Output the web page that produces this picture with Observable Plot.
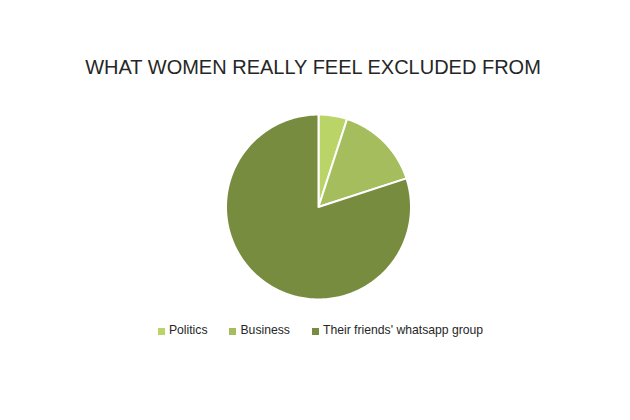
<!DOCTYPE html>
<html>
<head>
<meta charset="utf-8">
<script src="https://cdn.jsdelivr.net/npm/d3@7"></script>
<script src="https://cdn.jsdelivr.net/npm/@observablehq/plot@0.6"></script>
<style>
  html, body { margin: 0; padding: 0; background: #ffffff; }
  #page { position: relative; width: 630px; height: 420px; font-family: "Liberation Sans", Arial, sans-serif; }
  #title { position: absolute; top: 55px; left: 0; width: 626px; text-align: center; font-size: 20px; line-height: 24px; color: #262626; white-space: nowrap; }
  #chart { position: absolute; top: 100px; left: 0; }
  #legend { position: absolute; top: 323px; left: 0; width: 630px; box-sizing: border-box; padding-left: 11px; display: flex; justify-content: center; gap: 22px; font-size: 12.2px; line-height: 15px; color: #262626; }
  .item { display: inline-flex; align-items: center; white-space: nowrap; }
  .sw { width: 7px; height: 7px; margin-right: 4px; margin-top: 1px; }
</style>
</head>
<body>
<div id="page">
  <div id="title">WHAT WOMEN REALLY FEEL EXCLUDED FROM</div>
  <div id="chart"></div>
  <div id="legend"></div>
</div>
<script>
// Share of answers per category (percent)
const categories = ["Politics", "Business", "Their friends' whatsapp group"];
const shares = [5, 15, 80];
const palette = ["#bad468", "#a6bd5e", "#788c40"];

// Turn each pie slice into a closed outline in unit coordinates
// (centre, then along the rim clockwise from 12 o'clock).
const arcs = d3.pie().sort(null)(shares);
const outline = [];
arcs.forEach((a, i) => {
  const label = categories[i];
  outline.push({label, x: 0, y: 0});
  const steps = Math.max(2, Math.ceil((a.endAngle - a.startAngle) / (Math.PI / 180)));
  for (let k = 0; k <= steps; ++k) {
    const t = a.startAngle + (a.endAngle - a.startAngle) * k / steps;
    outline.push({label, x: Math.sin(t), y: Math.cos(t)});
  }
});

const cx = 318, cy = 106.5, r = 92.5;
const chart = Plot.plot({
  width: 630,
  height: 214,
  margin: 0,
  x: {domain: [-1, 1], range: [cx - r, cx + r], axis: null},
  y: {domain: [-1, 1], range: [cy + r, cy - r], axis: null},
  color: {domain: categories, range: palette},
  marks: [
    Plot.line(outline, {
      x: "x",
      y: "y",
      z: "label",
      fill: "label",
      stroke: "white",
      strokeWidth: 2,
      curve: "linear-closed"
    })
  ]
});
document.getElementById("chart").appendChild(chart);

// Legend built from the chart's colour scale
const color = chart.scale("color");
const legend = document.getElementById("legend");
color.domain.forEach((name, i) => {
  const item = document.createElement("span");
  item.className = "item";
  const sw = document.createElement("span");
  sw.className = "sw";
  sw.style.background = color.range[i];
  item.appendChild(sw);
  item.appendChild(document.createTextNode(name));
  legend.appendChild(item);
});
</script>
</body>
</html>
